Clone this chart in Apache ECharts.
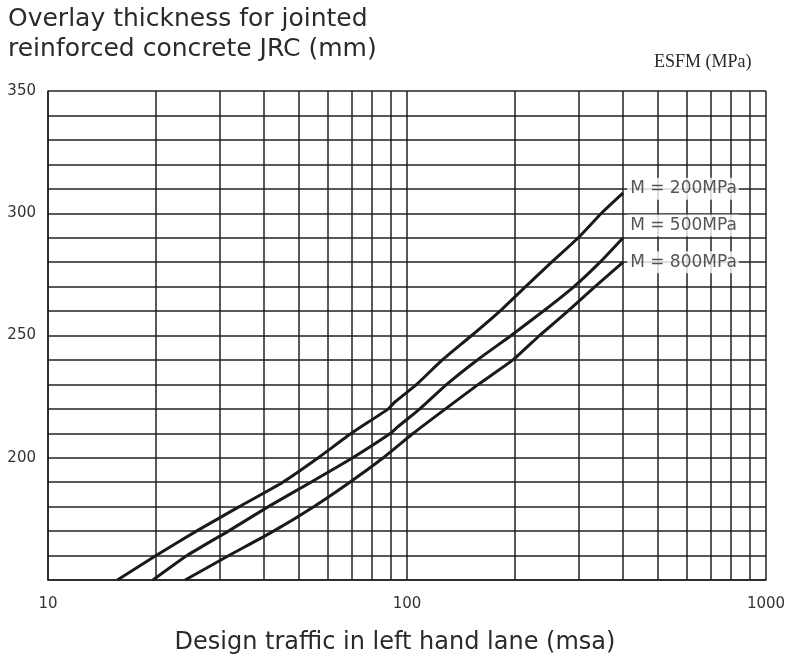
<!DOCTYPE html>
<html>
<head>
<meta charset="utf-8">
<script src="https://cdn.jsdelivr.net/npm/echarts@6/dist/echarts.min.js"></script>
<style>
  html, body { margin: 0; padding: 0; background: #fff; }
  #chart { width: 791px; height: 659px; }
</style>
</head>
<body>
<div id="chart"></div>
<script>
// curves: [design traffic (msa), overlay thickness (mm)]
var curve200 = [[15.6,150],[20,160],[25.9,170],[34.1,180],[45.1,190],[56.6,200],[70,210],[88.7,220],[92.5,222.8],
  [106.4,230],[125.4,240],[151.4,250],[181.5,260],[214,270],[252.8,280],[300,290],[348,300],[400,308.3]];
var curve500 = [[19.6,150],[24.4,160],[31.8,170],[41.1,180],[54,190],[70.6,200],[90,210],[94,212.5],
  [108.6,220],[129,230],[157,240],[195,250],[240,260],[291.9,270],[345,280],[400,290]];
var curve800 = [[24.1,150],[31.9,160],[42.5,170],[55,180],[69.3,190],[85.9,200],[104.1,210],
  [128,220],[158,230],[197.3,240],[234,250],[280.6,260],[334,270],[400,280]];

var seriesNames = ['M = 200MPa', 'M = 500MPa', 'M = 800MPa'];
// where the curve labels sit
var labelX = [400, 400, 400];
var labelY = [310, 295, 280];

// log minor grid lines
var minorX = [20,30,40,50,60,70,80,90,200,300,400,500,600,700,800,900];

var yMin = 150, yMax = 350, yStep = 10;

var font = '"DejaVu Sans", sans-serif';
var gridColor = '#222';
var textColor = '#2a2a2a';

var chart = echarts.init(document.getElementById('chart'));

function curveSeries(name, data) {
  return {
    name: name,
    type: 'line',
    data: data,
    showSymbol: false,
    smooth: 0.15,
    silent: true,
    z: 5,
    lineStyle: { color: '#1a1a1a', width: 3 }
  };
}

var option = {
  animation: false,
  backgroundColor: '#fff',
  title: [
    {
      text: 'Overlay thickness for jointed\nreinforced concrete JRC (mm)',
      left: 8, top: 4, padding: 0,
      textStyle: { fontFamily: font, fontWeight: 'normal', fontSize: 25, lineHeight: 30, color: textColor }
    },
    {
      text: 'ESFM (MPa)',
      left: 654, top: 53, padding: 0,
      textStyle: { fontFamily: '"Liberation Serif", serif', fontWeight: 'normal', fontSize: 18, color: textColor }
    }
  ],
  grid: { left: 48, right: 25, top: 91, bottom: 79, outerBoundsMode: 'none' },
  xAxis: {
    type: 'log',
    logBase: 10,
    min: 10,
    max: 1000,
    name: 'Design traffic in left hand lane (msa)',
    nameLocation: 'middle',
    nameGap: 51,
    nameTextStyle: { fontFamily: font, fontSize: 24, color: textColor, padding: [0, 24, 0, 0] },
    axisLine: { show: true, lineStyle: { color: gridColor, width: 1.5 } },
    axisTick: { show: false },
    axisLabel: {
      margin: 17,
      fontFamily: font, fontSize: 15, color: '#333',
      formatter: function (v) { return String(Math.round(v)); }
    },
    splitLine: { show: true, lineStyle: { color: gridColor, width: 1.5 } }
  },
  yAxis: {
    type: 'value',
    min: yMin,
    max: yMax,
    interval: yStep,
    axisLine: { show: true, lineStyle: { color: gridColor, width: 1.5 } },
    axisTick: { show: false },
    axisLabel: {
      margin: 12,
      fontFamily: font, fontSize: 15, color: '#333',
      formatter: function (v) { return (v % 50 === 0 && v !== yMin) ? String(v) : ''; }
    },
    splitLine: { show: true, lineStyle: { color: gridColor, width: 1.5 } }
  },
  series: [
    {
      type: 'line',
      data: [],
      silent: true,
      markLine: {
        silent: true,
        symbol: 'none',
        label: { show: false },
        lineStyle: { color: gridColor, width: 1.5, type: 'solid' },
        data: minorX.map(function (v) { return { xAxis: v }; })
      }
    },
    curveSeries(seriesNames[0], curve200),
    curveSeries(seriesNames[1], curve500),
    curveSeries(seriesNames[2], curve800),
    {
      type: 'scatter',
      silent: true,
      z: 10,
      symbolSize: 0,
      data: labelX.map(function (x, i) { return { value: [x, labelY[i]], name: seriesNames[i] }; }),
      label: {
        show: true,
        position: 'right',
        distance: 4,
        formatter: '{b}',
        fontFamily: font,
        fontSize: 17,
        color: '#2a2a2a',
        backgroundColor: '#fff',
        padding: [3, 2, 2, 3]
      }
    }
  ]
};

chart.setOption(option);
</script>
</body>
</html>
